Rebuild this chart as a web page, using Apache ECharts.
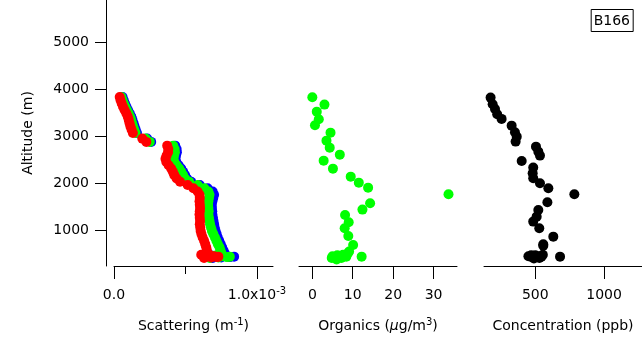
<!DOCTYPE html>
<html>
<head>
<meta charset="utf-8">
<script src="https://cdn.jsdelivr.net/npm/echarts@6/dist/echarts.min.js"></script>
<style>
  html, body { margin: 0; padding: 0; background: #fff; }
  #chart { width: 642px; height: 339px; }
</style>
</head>
<body>
<div id="chart"></div>
<script>
// Aerosol scattering (three wavelengths), organics and gas concentration vs altitude, flight B166

// Altitude (m) of the scattering samples
const altScat = [3840, 3770, 3700, 3630, 3560, 3490, 3420, 3350, 3280, 3210, 3140, 3070,
  2950, 2880,
  2800, 2730, 2660, 2590, 2520, 2450, 2380, 2310, 2240, 2170, 2100, 2030, 1960, 1890,
  1820, 1750, 1680, 1610, 1540, 1470, 1400, 1330, 1260, 1190, 1120, 1050, 980, 910,
  840, 770, 700, 630, 560, 500,
  470, 430, 450, 410, 440, 420, 430, 400, 460];

// Scattering coefficients, in units of 1e-3 m^-1
const scatBlue = [0.060, 0.068, 0.077, 0.087, 0.098, 0.110, 0.121, 0.129, 0.137, 0.144, 0.152, 0.161,
  0.232, 0.260,
  0.428, 0.438, 0.440, 0.434, 0.430, 0.436, 0.452, 0.470, 0.484, 0.497, 0.511, 0.540, 0.600, 0.655,
  0.690, 0.700, 0.694, 0.688, 0.684, 0.685, 0.687, 0.688, 0.692, 0.696, 0.700, 0.704, 0.710, 0.718,
  0.726, 0.736, 0.746, 0.756, 0.766, 0.775,
  0.67, 0.70, 0.72, 0.75, 0.78, 0.81, 0.84, 0.69, 0.74];
const scatGreen = [0.052, 0.060, 0.069, 0.079, 0.090, 0.102, 0.112, 0.120, 0.127, 0.134, 0.142, 0.151,
  0.222, 0.250,
  0.414, 0.424, 0.426, 0.420, 0.416, 0.422, 0.438, 0.456, 0.470, 0.483, 0.497, 0.526, 0.585, 0.632,
  0.660, 0.668, 0.664, 0.660, 0.658, 0.660, 0.662, 0.660, 0.664, 0.668, 0.672, 0.678, 0.685, 0.695,
  0.706, 0.716, 0.726, 0.738, 0.745, 0.752,
  0.65, 0.68, 0.70, 0.73, 0.76, 0.79, 0.81, 0.67, 0.72];
const scatRed = [0.040, 0.046, 0.054, 0.063, 0.074, 0.086, 0.096, 0.103, 0.109, 0.115, 0.123, 0.132,
  0.198, 0.226,
  0.372, 0.380, 0.378, 0.368, 0.360, 0.366, 0.382, 0.400, 0.412, 0.422, 0.438, 0.462, 0.515, 0.555,
  0.585, 0.598, 0.600, 0.598, 0.600, 0.602, 0.600, 0.598, 0.600, 0.602, 0.600, 0.603, 0.606, 0.612,
  0.620, 0.630, 0.638, 0.645, 0.650, 0.655,
  0.61, 0.64, 0.66, 0.68, 0.70, 0.72, 0.73, 0.63, 0.67];

// Organics (µg/m3) and their altitudes (m)
const altOrg = [3834, 3676, 3526, 3364, 3236, 3078, 2907, 2757, 2608, 2480, 2309, 2138, 2010, 1903,
  1762, 1570, 1434, 1320, 1164, 1036, 870, 680, 540, 430,
  440, 460, 470, 370, 430, 400, 400, 500];
const organics = [0.0, 3.0, 1.1, 1.6, 0.65, 4.5, 3.5, 4.3, 6.8, 2.8, 5.1, 9.5, 11.5, 13.8,
  33.7, 14.3, 12.4, 8.1, 9.0, 8.0, 8.9, 10.1, 9.1, 12.2,
  5.0, 6.2, 7.6, 6.0, 8.4, 4.8, 7.2, 8.8];

// Gas concentration (ppb) and altitudes (m)
const altConc = [3826, 3684, 3584, 3471, 3371, 3227, 3086, 2992, 2886, 2779, 2672, 2587, 2473,
  2331, 2211, 2104, 1997, 1890, 1762, 1591, 1427, 1284, 1178, 1036, 857, 695, 662, 430,
  440, 420, 460, 440, 430, 470, 390, 400, 460];
const concentration = [175, 190, 207, 223, 255, 328, 352, 365, 357, 505, 522, 534, 401,
  485, 481, 485, 534, 595, 784, 588, 522, 510, 485, 529, 631, 558, 558, 680,
  450, 475, 500, 520, 545, 555, 490, 530, 470];

// Axis ranges and ticks
const altRange = [230, 5910];
const altTicks = [1000, 2000, 3000, 4000, 5000];
const scatRange = [0, 1.112];
const scatMajorTicks = [0, 1];
const scatMinorTicks = [0.5];
const orgRange = [-3.3, 35.8];
const orgTicks = [0, 10, 20, 30];
const concRange = [127, 1276];
const concTicks = [500, 1000];

const FONT = 'DejaVu Sans';
const FS = 14;
const pairs = (xs, ys) => xs.map((x, i) => [x, ys[i]]);
const plain = v => String(v);

const baseText = { fontFamily: FONT, fontSize: FS, color: '#000' };
const supRich = {
  n: { fontFamily: FONT, fontSize: FS, color: '#000', lineHeight: 19 },
  s: { fontFamily: FONT, fontSize: 10, color: '#000', verticalAlign: 'top', lineHeight: 10 },
  mu: { fontFamily: FONT, fontSize: FS, color: '#000', fontStyle: 'italic', lineHeight: 19 }
};

function xAxisFor(gridIndex, range, ticks, opts) {
  return Object.assign({
    type: 'value',
    gridIndex: gridIndex,
    min: range[0],
    max: range[1],
    position: 'bottom',
    axisLine: { show: true, onZero: false, lineStyle: { color: '#000', width: 1 } },
    axisTick: { show: true, inside: false, length: 13, customValues: ticks, lineStyle: { color: '#000', width: 1 } },
    axisLabel: { show: true, customValues: ticks, margin: 22, formatter: plain, ...baseText },
    splitLine: { show: false },
    nameLocation: 'middle',
    nameGap: 51,
    nameTextStyle: { ...baseText, rich: supRich }
  }, opts || {});
}

function yAxisFor(gridIndex, showIt) {
  return {
    type: 'value',
    gridIndex: gridIndex,
    min: altRange[0],
    max: altRange[1],
    show: showIt,
    offset: 8,
    axisLine: { show: true, onZero: false, lineStyle: { color: '#000', width: 1 } },
    axisTick: { show: true, inside: false, length: 11, customValues: altTicks, lineStyle: { color: '#000', width: 1 } },
    axisLabel: { show: true, customValues: altTicks, margin: 17, formatter: plain, ...baseText },
    splitLine: { show: false },
    name: 'Altitude (m)',
    nameLocation: 'middle',
    nameGap: 71,
    nameTextStyle: { ...baseText }
  };
}

const chart = echarts.init(document.getElementById('chart'), null, { renderer: 'canvas' });

const dot = (name, xi, yi, data, color) => ({
  name: name,
  type: 'scatter',
  xAxisIndex: xi,
  yAxisIndex: yi,
  data: data,
  symbol: 'circle',
  symbolSize: 10,
  itemStyle: { color: color, opacity: 1 },
  emphasis: { disabled: true },
  silent: true
});

chart.setOption({
  animation: false,
  backgroundColor: '#fff',
  title: {
    text: 'B166',
    right: 9,
    top: 9,
    padding: [5, 3, 4, 3],
    borderColor: '#000',
    borderWidth: 1,
    textStyle: { fontFamily: FONT, fontSize: FS, fontWeight: 'normal', color: '#000' }
  },
  grid: [
    { left: 114, width: 159, top: 0, height: 266 },
    { left: 299, width: 158, top: 0, height: 266 },
    { left: 484, width: 158, top: 0, height: 266 }
  ],
  xAxis: [
    xAxisFor(0, scatRange, scatMajorTicks, {
      name: '{n|Scattering (m}{s|-1}{n|)}',
      axisLabel: {
        show: true, customValues: scatMajorTicks, margin: 20, ...baseText,
        formatter: v => (v === 0 ? '{n|0.0}' : '{n|1.0x10}{s|-3}'),
        rich: supRich
      }
    }),
    xAxisFor(1, orgRange, orgTicks, { name: '{n|Organics (}{mu|µ}{n|g/m}{s|3}{n|)}' }),
    xAxisFor(2, concRange, concTicks, { name: '{n|Concentration (ppb)}' }),
    // shorter intermediate tick on the scattering axis
    xAxisFor(0, scatRange, scatMinorTicks, {
      axisLine: { show: false },
      axisTick: { show: true, length: 8, customValues: scatMinorTicks, lineStyle: { color: '#000', width: 1 } },
      axisLabel: { show: false }
    })
  ],
  yAxis: [yAxisFor(0, true), yAxisFor(1, false), yAxisFor(2, false)],
  series: [
    dot('Scattering blue', 0, 0, pairs(scatBlue, altScat), '#0000ff'),
    dot('Scattering green', 0, 0, pairs(scatGreen, altScat), '#00ff00'),
    dot('Scattering red', 0, 0, pairs(scatRed, altScat), '#ff0000'),
    dot('Organics', 1, 1, pairs(organics, altOrg), '#00ff00'),
    dot('Concentration', 2, 2, pairs(concentration, altConc), '#000000')
  ]
});
</script>
</body>
</html>
